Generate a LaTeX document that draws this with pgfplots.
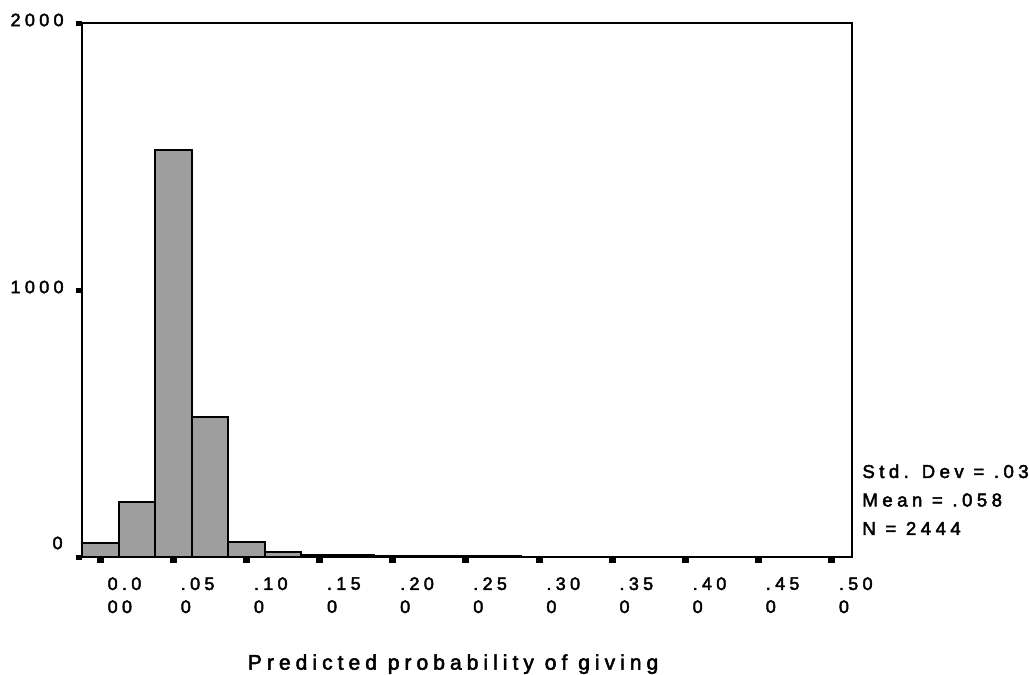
\documentclass[border=0pt]{standalone}
\usepackage{pgfplots}
\pgfplotsset{compat=1.18}
\usepackage{fontspec}
\setmainfont{Liberation Sans}[LetterSpace=24, BoldFont={Liberation Sans}, BoldFeatures={FakeBold=2.5}]
\begin{document}
\begin{tikzpicture}
\useasboundingbox (-41pt,-59pt) rectangle (473.5pt,278.5pt);
\begin{axis}[
  scale only axis,
  width=385pt, height=267pt,
  at={(0,0)}, anchor=south west,
  xmin=-0.0125, xmax=0.514,
  ymin=0, ymax=2000,
  axis line style={line width=1.2pt},
  ybar, bar width=0.025,
  tick pos=left,
  tick align=outside,
  major tick length=3pt,
  xtick style={line width=3.5pt, black},
  ytick style={line width=2.5pt, black},
  xtick={0,0.05,0.1,0.15,0.2,0.25,0.3,0.35,0.4,0.45,0.5},
  xticklabels={{0.0\\00},{.05\\0},{.10\\0},{.15\\0},{.20\\0},{.25\\0},{.30\\0},{.35\\0},{.40\\0},{.45\\0},{.50\\0}},
  xticklabel style={align=left, anchor=north west, inner sep=0pt, xshift=3.5pt, yshift=-7pt, font=\bfseries\fontsize{9}{11.5}\selectfont},
  ytick={0,1000,2000},
  yticklabels={,1000,2000},
  yticklabel style={anchor=east, inner sep=0pt, xshift=-6pt, yshift=1.5pt, font=\bfseries\fontsize{9}{11}\selectfont},
  xlabel={Predicted probability of giving},
  xlabel style={at={(axis description cs:0.482,0)}, anchor=north, inner sep=0pt, yshift=-48.5pt, font=\bfseries\fontsize{10.5}{12}\selectfont},
  clip=false,
]
\addplot[fill=black!38, draw=black, line width=1pt] coordinates {
  (0,52) (0.025,206) (0.05,1525) (0.075,524) (0.1,56) (0.125,20)
  (0.15,8) (0.175,6) (0.2,4) (0.225,3) (0.25,3) (0.275,2)
};
\node[anchor=east, inner sep=0pt, xshift=-9.5pt, yshift=7pt, font=\bfseries\fontsize{9}{11}\selectfont] at (rel axis cs:0,0) {0};
\node[anchor=north west, inner sep=0pt, align=left, font=\bfseries\fontsize{9.3}{14.25}\selectfont] at (rel axis cs:1.013,0.174) {Std. Dev = .03\\Mean = .058\\N = 2444};
\end{axis}
\end{tikzpicture}
\end{document}
